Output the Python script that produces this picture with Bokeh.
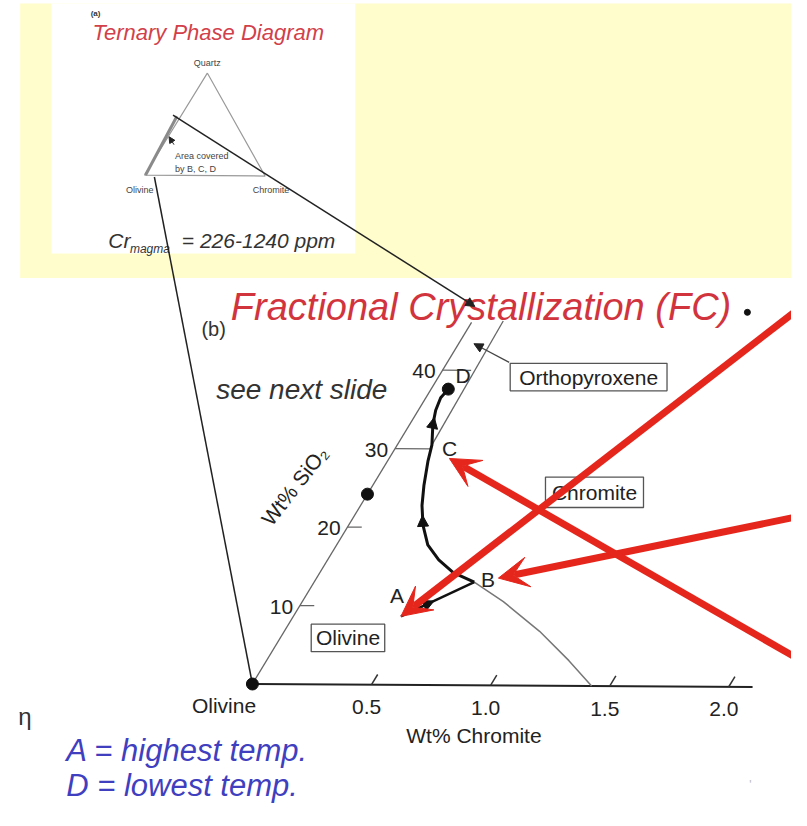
import numpy as np
from bokeh.plotting import figure
from bokeh.models import Range1d, Arrow, VeeHead, NormalHead
from bokeh.embed import file_html
from bokeh.resources import INLINE
from bokeh.core.properties import value

FONT = "Liberation Sans"

# ---------------- diagram data (wt% Chromite, wt% SiO2) ----------------
CHROMITE_TICKS = [0.5, 1.0, 1.5, 2.0]
CHROMITE_TICK_LABELS = ["0.5", "1.0", "1.5", "2.0"]
CHROMITE_AXIS_MAX = 2.1

SIO2_TICKS = [10, 20, 30, 40]
SIO2_TICK_LABELS = ["10", "20", "30", "40"]
SIO2_TICK_REACH = [0.06, 0.06, 0.15, 0.12]
SIO2_AXIS_MAX = 46.1

POINT_NAMES = ["A", "B", "C", "D"]
POINT_CHROMITE = [0.45, 0.67, 0.145, 0.072]
POINT_SIO2 = [8.7, 13.1, 30.5, 37.6]

# liquid line of descent B -> C -> D
LLD_CHROMITE = [0.67, 0.558, 0.465, 0.381, 0.311, 0.257, 0.215, 0.170, 0.145, 0.097, 0.073, 0.062, 0.072]
LLD_SIO2 = [13.1, 14.3, 15.9, 17.8, 20.3, 22.8, 25.3, 28.4, 30.5, 33.1, 34.9, 36.5, 37.6]

# olivine / chromite field boundary
OLCHR_CHROMITE = [0.67, 0.841, 1.068, 1.265, 1.424]
OLCHR_SIO2 = [13.1, 10.65, 6.9, 3.2, 0.0]

# olivine / orthopyroxene field boundary
OPX_CHROMITE = [0.145, 0.129]
OPX_SIO2 = [30.5, 46.3]

DOT_CHROMITE = [0.0, 0.0]
DOT_SIO2 = [0.0, 24.2]

# ---------------- inset (a) ternary sketch, page units ----------------
INSET_TRI_X = [211, 147, 270, 211]
INSET_TRI_Y = [74, 178, 179, 74]
INSET_EDGE_X = [148, 180]
INSET_EDGE_Y = [178, 118]

# ---------------- placement of the diagram on the page ----------------
ORIGIN = (257.0, 697.0)
CR_VEC = (243.0, 1.4)
SI_VEC = (4.85, -8.0)


def to_px(c, s):
    c = np.asarray(c, dtype=float)
    s = np.asarray(s, dtype=float)
    return (ORIGIN[0] + c * CR_VEC[0] + s * SI_VEC[0],
            ORIGIN[1] + c * CR_VEC[1] + s * SI_VEC[1])


p = figure(width=791, height=810, x_range=Range1d(0, 807), y_range=Range1d(826, 0),
           output_backend="svg", toolbar_location=None, min_border=0,
           x_axis_location=None, y_axis_location=None)
p.grid.visible = False
p.outline_line_color = None
p.background_fill_color = "white"
p.border_fill_color = "white"


def label(x, y, txt, size, color="#222222", align="left", baseline="middle",
          style="normal", angle=0):
    p.text(x=[x], y=[y], text=[txt], text_font=value(FONT), text_font_size=f"{size}px",
           text_color=color, text_align=align, text_baseline=baseline,
           text_font_style=style, angle=angle, angle_units="deg")


# slide backgrounds
p.quad(left=[20], right=[810], top=[3], bottom=[283], fill_color="#fffdcc", line_color=None)
p.quad(left=[52], right=[362], top=[3], bottom=[258], fill_color="white", line_color=None)

# ---------------- inset (a) ----------------
label(92, 13, "(a)", 8, color="#333333", style="bold")
label(212, 33, "Ternary Phase Diagram", 22, color="#d2404a", align="center", style="italic")
label(211, 64, "Quartz", 9, color="#444444", align="center")
p.line(INSET_TRI_X, INSET_TRI_Y, line_color="#9a9a9a", line_width=1.2)
p.line(INSET_EDGE_X, INSET_EDGE_Y, line_color="#8a8a8a", line_width=3)
label(178, 159, "Area covered", 9, color="#444444")
label(178, 172, "by B, C, D", 9, color="#444444")
label(142, 193, "Olivine", 9, color="#444444", align="center")
label(276, 193, "Chromite", 9, color="#444444", align="center")
label(110, 245, "Cr", 21, color="#333333", baseline="alphabetic", style="italic")
label(132, 253, "magma", 12, color="#333333", baseline="alphabetic", style="italic")
label(185, 245, "= 226-1240 ppm", 21, color="#333333", baseline="alphabetic", style="italic")
p.add_layout(Arrow(end=NormalHead(size=6, fill_color="#222222", line_color="#222222"),
                   x_start=177, y_start=147, x_end=172, y_end=139,
                   line_color="#222222", line_width=1))

# projection lines from the inset into the enlarged diagram
ox, oy = to_px(0, 0)
p.add_layout(Arrow(end=NormalHead(size=9, fill_color="#222222", line_color="#222222"),
                   x_start=176, y_start=117, x_end=484, y_end=312,
                   line_color="#222222", line_width=1.5))
p.line([157, float(ox)], [180, float(oy)], line_color="#222222", line_width=1.5)

# ---------------- title ----------------
label(235, 313, "Fractional Crystallization (FC)", 38, color="#d2343e",
      baseline="alphabetic", style="italic")
p.scatter([762], [318], size=6, color="#111111")

# ---------------- diagram (b) ----------------
label(205, 335, "(b)", 20, color="#333333")
label(220, 397, "see next slide", 28, color="#333333", baseline="alphabetic", style="italic")

# chromite axis
ax_x, ax_y = to_px([0, CHROMITE_AXIS_MAX], [0, 0])
p.line(ax_x, ax_y, line_color="#222222", line_width=2)
tx0, ty0 = to_px(CHROMITE_TICKS, [0] * len(CHROMITE_TICKS))
tx1, ty1 = to_px(CHROMITE_TICKS, [1.3] * len(CHROMITE_TICKS))
p.segment(tx0, ty0, tx1, ty1, line_color="#333333", line_width=1.5)
p.text(x=tx0 - 5, y=ty0 + 23, text=CHROMITE_TICK_LABELS, text_font=value(FONT),
       text_font_size="21px", text_color="#222222", text_align="center", text_baseline="middle")
label(float(ox) - 29, float(oy) + 22, "Olivine", 21, align="center")
label(483, 750, "Wt% Chromite", 21, align="center")

# SiO2 axis
sx, sy = to_px([0, 0], [0, SIO2_AXIS_MAX])
p.line(sx, sy, line_color="#666666", line_width=1.3)
kx0, ky0 = to_px([0] * len(SIO2_TICKS), SIO2_TICKS)
kx1, ky1 = to_px(SIO2_TICK_REACH, SIO2_TICKS)
p.segment(kx0, ky0, kx1, ky1, line_color="#666666", line_width=1.3)
p.text(x=kx0 - 7, y=ky0 + 1, text=SIO2_TICK_LABELS, text_font=value(FONT),
       text_font_size="21px", text_color="#222222", text_align="right", text_baseline="middle")
label(300, 495, "Wt% SiO\u2082", 21, align="center", angle=52)

# field boundaries
bx, by = to_px(OLCHR_CHROMITE, OLCHR_SIO2)
p.line(bx, by, line_color="#777777", line_width=1.5)
qx, qy = to_px(OPX_CHROMITE, OPX_SIO2)
p.line(qx, qy, line_color="#666666", line_width=1.3)

# liquid line of descent
lx, ly = to_px(LLD_CHROMITE, LLD_SIO2)
p.line(lx, ly, line_color="#111111", line_width=3)
ptx, pty = to_px(POINT_CHROMITE, POINT_SIO2)
p.line([ptx[0], ptx[1]], [pty[0], pty[1]], line_color="#111111", line_width=2.5)
for (x0, y0, x1, y1) in [(ptx[0] + (ptx[1] - ptx[0]) * 0.25, pty[0] + (pty[1] - pty[0]) * 0.25,
                          ptx[0] + (ptx[1] - ptx[0]) * 0.45, pty[0] + (pty[1] - pty[0]) * 0.45),
                         (lx[4], ly[4], (lx[4] + lx[5]) / 2, (ly[4] + ly[5]) / 2),
                         (lx[9], ly[9], (lx[9] + lx[10]) / 2, (ly[9] + ly[10]) / 2)]:
    p.add_layout(Arrow(end=NormalHead(size=11, fill_color="#111111", line_color="#111111"),
                       x_start=float(x0), y_start=float(y0), x_end=float(x1), y_end=float(y1),
                       line_color="#111111", line_width=2))

dx, dy = to_px(DOT_CHROMITE, DOT_SIO2)
p.scatter(dx, dy, size=12, color="#111111")
p.scatter([ptx[3]], [pty[3]], size=12, color="#111111")

# point letters
LABEL_DX = [-4, 14, 18, 15]
LABEL_DY = [-21, -3, 4, -14]
p.text(x=ptx + np.array(LABEL_DX), y=pty + np.array(LABEL_DY), text=POINT_NAMES,
       text_font=value(FONT), text_font_size="21px", text_color="#222222",
       text_align="center", text_baseline="middle")

# field name boxes
p.quad(left=[317, 520, 556], right=[392, 680, 656], top=[636, 370, 486],
       bottom=[664, 398, 517], fill_color="white", line_color="#555555", line_width=1.3)
label(354.5, 650, "Olivine", 21, align="center")
label(600, 384, "Orthopyroxene", 21, align="center")
label(606, 502, "Chromite", 21, align="center")
p.add_layout(Arrow(end=NormalHead(size=9, fill_color="#222222", line_color="#222222"),
                   x_start=519, y_start=369, x_end=483, y_end=350,
                   line_color="#444444", line_width=1.2))

# ---------------- bottom notes ----------------
label(25, 730, "\u03b7", 24, color="#333333", align="center")
label(67, 765, "A = highest temp.", 31, color="#3f3fc0", style="italic")
label(67, 801, "D = lowest temp.", 31, color="#3f3fc0", style="italic")
label(765, 800, "'", 12, color="#bbbbbb", align="center")

# ---------------- red pointer arrows ----------------
RED = "#e5261c"
red_targets = [(820, 310, float(ptx[0]), float(pty[0])),
               (820, 525, 508, 589),
               (820, 675, 458, 467)]
for (xs, ys, xe, ye) in red_targets:
    p.add_layout(Arrow(end=VeeHead(size=30, fill_color=RED, line_color=RED, line_width=1),
                       x_start=xs, y_start=ys, x_end=xe, y_end=ye,
                       line_color=RED, line_width=7))

open("out.html", "w").write(file_html(p, INLINE))
